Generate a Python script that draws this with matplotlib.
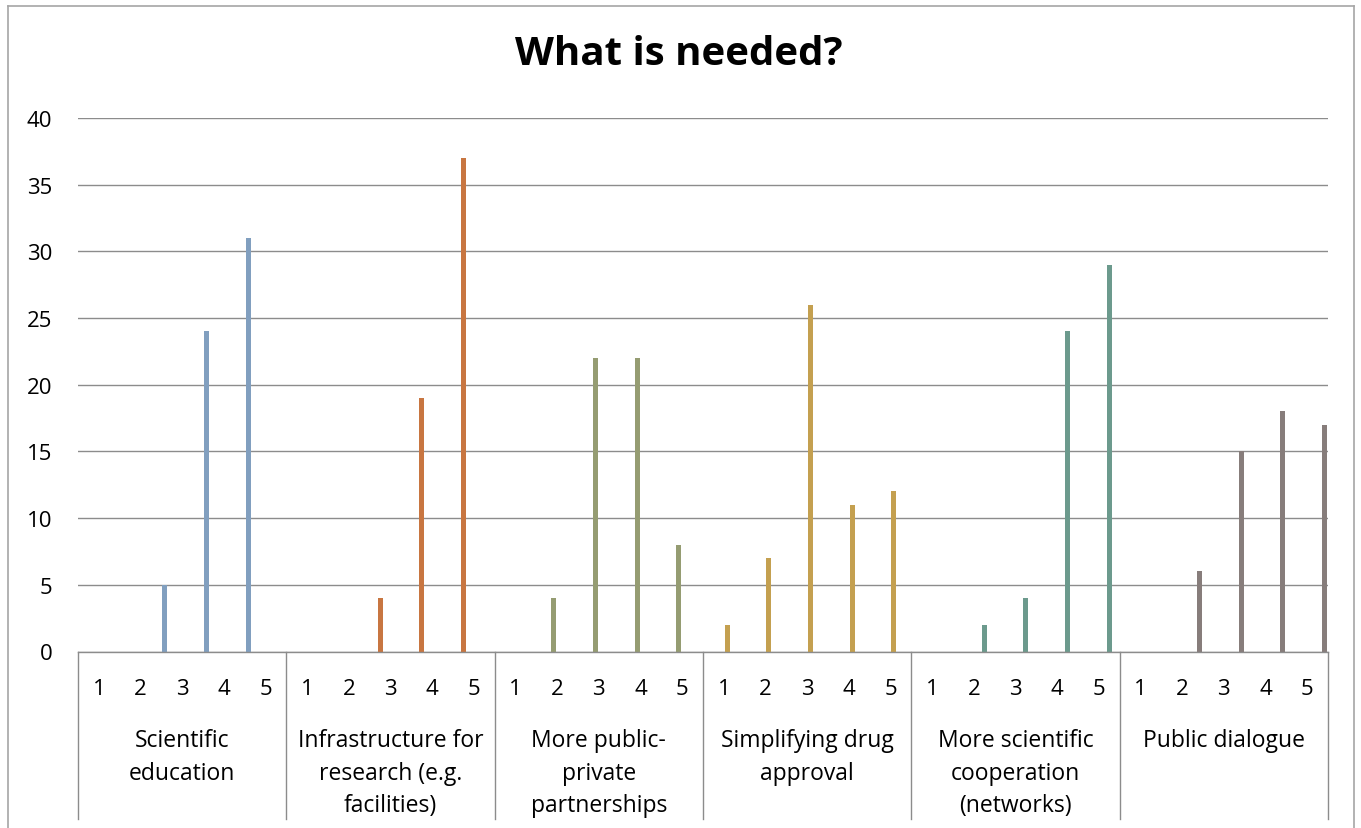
import matplotlib
matplotlib.use("Agg")
import matplotlib.pyplot as plt
import matplotlib.transforms as mtransforms
from matplotlib.lines import Line2D

# ---- data ----
groups = ["Scientific\neducation",
          "Infrastructure for\nresearch (e.g.\nfacilities)",
          "More public-\nprivate\npartnerships",
          "Simplifying drug\napproval",
          "More scientific\ncooperation\n(networks)",
          "Public dialogue"]
ratings = ["1", "2", "3", "4", "5"]
scientific_education = [0, 0, 5, 24, 31]
infrastructure = [0, 0, 4, 19, 37]
public_private = [0, 4, 22, 22, 8]
drug_approval = [2, 7, 26, 11, 12]
cooperation = [0, 2, 4, 24, 29]
public_dialogue = [0, 6, 15, 18, 17]
series = [scientific_education, infrastructure, public_private,
          drug_approval, cooperation, public_dialogue]
colors = ["#819FBF", "#C87641", "#959C72", "#C4A050", "#6C9A8D", "#877D7B"]
yticks = [0, 5, 10, 15, 20, 25, 30, 35, 40]

plt.rcParams['font.family'] = ['Open Sans', 'DejaVu Sans']

W, H = 1361, 829
fig = plt.figure(figsize=(W / 100, H / 100), dpi=100)
ax = fig.add_axes([78 / W, (H - 652.5) / H, 1250 / W, 533.5 / H])

n_groups = len(groups)
n_cat = n_groups * len(ratings)
bar_w = 0.12
for gi, vals in enumerate(series):
    xs = []
    hs = []
    for ci in range(n_cat):
        in_group = ci // len(ratings) == gi
        xs.append(ci + (gi - (n_groups - 1) / 2) / n_groups)
        hs.append(vals[ci % len(ratings)] if in_group else 0)
    ax.bar(xs, hs, width=bar_w, color=colors[gi], zorder=3)

fs = 16
ax.set_xlim(-0.5, n_cat - 0.5)
ax.set_ylim(0, 40)
ax.set_yticks(yticks)
ax.set_yticklabels([str(v) for v in yticks], fontsize=fs)
ax.tick_params(axis='y', length=0, pad=18.5)
ax.set_xticks([])
ax.grid(axis='y', color='#8C8C8C', linewidth=1.0, zorder=0)
for s in ['top', 'right', 'left']:
    ax.spines[s].set_visible(False)
ax.spines['bottom'].set_color('#8C8C8C')
ax.spines['bottom'].set_linewidth(1.0)
ax.spines['bottom'].set_zorder(4)

trans = mtransforms.blended_transform_factory(ax.transData, ax.transAxes)
ph = 533.5
# rating labels
for ci in range(n_cat):
    ax.text(ci, -(695 - 652.5) / ph, ratings[ci % len(ratings)], transform=trans,
            ha='center', va='baseline', fontsize=fs)
# group labels
for gi, g in enumerate(groups):
    cx = gi * len(ratings) + (len(ratings) - 1) / 2
    ax.text(cx, -(729 - 652.5) / ph, g, transform=trans, ha='center', va='top',
            fontsize=16.5, linespacing=1.48, multialignment='center')
# group separators
for gi in range(n_groups + 1):
    x = gi * len(ratings) - 0.5
    ax.add_line(Line2D([x, x], [0, -(820 - 652.5) / ph], transform=trans,
                       color='#8C8C8C', linewidth=1.0, clip_on=False))

fig.text(679 / W, 1 - 65 / H, "What is needed?", ha='center', va='baseline',
         fontsize=29, fontweight='bold')

# chart border
bc = '#A6A6A6'
fig.add_artist(Line2D([8 / W, 8 / W], [0, 1 - 6.5 / H], transform=fig.transFigure, color=bc, lw=1.2))
fig.add_artist(Line2D([8 / W, 1354 / W], [1 - 6.5 / H, 1 - 6.5 / H], transform=fig.transFigure, color=bc, lw=1.2))
fig.add_artist(Line2D([1354 / W, 1354 / W], [0, 1 - 6.5 / H], transform=fig.transFigure, color=bc, lw=1.2))

fig.savefig("out.png", dpi=100)
